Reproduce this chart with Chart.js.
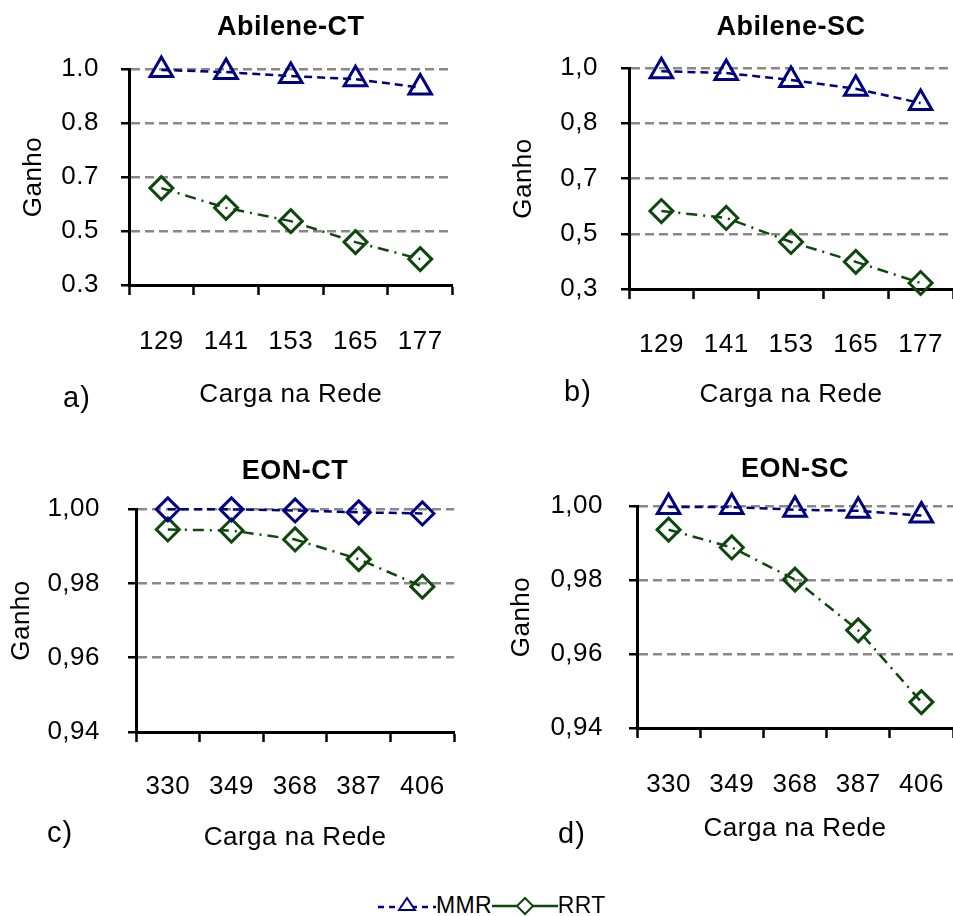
<!DOCTYPE html>
<html>
<head>
<meta charset="utf-8">
<script src="https://cdn.jsdelivr.net/npm/chart.js@4"></script>
<style>
  html, body { margin: 0; padding: 0; background: #ffffff; overflow: hidden; width: 953px; height: 916px; }
  #page { position: relative; width: 953px; height: 916px; overflow: hidden; font-family: "Liberation Sans", Arial, sans-serif; color: #000; }
  canvas { position: absolute; }
  .plabel { position: absolute; font-size: 29px; line-height: 30px; letter-spacing: 1px; }
  #legend { position: absolute; left: 378px; top: 891px; height: 28px; display: flex; align-items: center; font-size: 23px; letter-spacing: 0.3px; }
</style>
</head>
<body>
<div id="page">
  <canvas id="cA" width="476" height="430" style="left:0px;top:0px"></canvas>
  <canvas id="cB" width="520" height="430" style="left:476px;top:0px"></canvas>
  <canvas id="cC" width="476" height="420" style="left:0px;top:440px"></canvas>
  <canvas id="cD" width="520" height="420" style="left:476px;top:440px"></canvas>
  <div class="plabel" style="left:63px;top:382px">a)</div>
  <div class="plabel" style="left:564px;top:376px">b)</div>
  <div class="plabel" style="left:47px;top:817px">c)</div>
  <div class="plabel" style="left:558px;top:818px">d)</div>
  <div id="legend">
    <svg width="58" height="22" viewBox="0 0 58 22"><line x1="0" y1="13" x2="58" y2="13" stroke="#000080" stroke-width="2.5" stroke-dasharray="6,5"/><polygon points="29,4 37,16 21,16" fill="#fff" stroke="#000080" stroke-width="2"/></svg>
    <span>MMR</span>
    <svg width="66" height="22" viewBox="0 0 66 22"><line x1="0" y1="12" x2="66" y2="12" stroke="#0d470d" stroke-width="2.5"/><polygon points="33,4 41,12 33,20 25,12" fill="#fff" stroke="#0d470d" stroke-width="2"/></svg>
    <span>RRT</span>
  </div>
</div>
<script>
// ---------------- data ----------------
const abileneLoads = ['129', '141', '153', '165', '177'];
const eonLoads = ['330', '349', '368', '387', '406'];

const abileneCtMMR = [0.997, 0.990, 0.977, 0.967, 0.940];
const abileneCtRRT = [0.614, 0.550, 0.507, 0.439, 0.384];

const abileneScMMR = [0.990, 0.984, 0.962, 0.934, 0.889];
const abileneScRRT = [0.547, 0.525, 0.449, 0.386, 0.319];

const eonCtMMR = [0.9999, 0.9999, 0.9996, 0.9991, 0.9988];
const eonCtRRT = [0.9945, 0.9942, 0.9918, 0.9865, 0.9791];

const eonScMMR = [0.9997, 0.9997, 0.9990, 0.9987, 0.9974];
const eonScRRT = [0.9936, 0.9888, 0.9801, 0.9664, 0.9470];

const abileneCtTicks = ['0.3', '0.5', '0.7', '0.8', '1.0'];
const abileneScTicks = ['0,3', '0,5', '0,7', '0,8', '1,0'];
const eonTicks = ['0,94', '0,96', '0,98', '1,00'];

const titles = ['Abilene-CT', 'Abilene-SC', 'EON-CT', 'EON-SC'];
const seriesNames = ['MMR', 'RRT'];
const yAxisTitle = 'Ganho';
const xAxisTitle = 'Carga na Rede';

// ---------------- style ----------------
const FONT = '"Liberation Sans", Arial, sans-serif';
const BLUE = '#000080';
const GREEN = '#0d470d';
const GRID = '#888888';
const XH = 128;

Chart.defaults.font.family = FONT;
Chart.defaults.color = '#000';

const spacing = {
  id: 'letterSpacing',
  beforeLayout(c) { c.ctx.letterSpacing = '0.5px'; },
  beforeDraw(c) { c.ctx.letterSpacing = '0.5px'; }
};

function makePanel(id, cfg) {
  const chart = new Chart(document.getElementById(id), {
    type: 'line',
    data: {
      labels: cfg.labels,
      datasets: [
        {
          label: seriesNames[0], data: cfg.mmr, clip: false,
          borderColor: BLUE, borderWidth: 2.5, borderDash: [8, 5],
          pointStyle: cfg.mmrStyle, pointRadius: cfg.mmrRadius,
          pointBorderWidth: 3, pointBorderColor: BLUE,
          pointBackgroundColor: 'rgba(0,0,0,0)', tension: 0
        },
        {
          label: seriesNames[1], data: cfg.rrt, clip: false,
          borderColor: GREEN, borderWidth: 2.5, borderDash: [11, 6, 2, 6],
          pointStyle: 'rectRot', pointRadius: 11.5,
          pointBorderWidth: 3, pointBorderColor: GREEN,
          pointBackgroundColor: 'rgba(0,0,0,0)', tension: 0
        }
      ]
    },
    options: {
      responsive: false,
      animation: false,
      devicePixelRatio: 1,
      layout: { padding: { left: 0, right: 0, top: 0, bottom: 0 } },
      plugins: {
        legend: { display: false },
        tooltip: { enabled: false },
        title: {
          display: true, text: cfg.title, fullSize: false,
          font: { size: 27, weight: 'bold', family: FONT }, color: '#000',
          padding: { top: cfg.titleTop, bottom: 20 }
        }
      },
      scales: {
        x: {
          type: 'category', offset: true,
          afterFit: (s) => { s.height = XH; },
          grid: { display: true, offset: true, drawOnChartArea: false, drawTicks: true,
                  tickLength: 10, tickColor: '#000', tickWidth: 2.5 },
          border: { display: true, color: '#000', width: 3 },
          ticks: { font: { size: 26, family: FONT }, color: '#000', padding: cfg.xTickPad, maxRotation: 0, autoSkip: false },
          title: { display: true, text: xAxisTitle, font: { size: 26, family: FONT }, color: '#000',
                   padding: { top: 0, bottom: cfg.xTitleBottom } }
        },
        y: {
          type: 'linear', min: cfg.min, max: cfg.max,
          afterFit: (s) => { s.width = cfg.target.l; },
          grid: { display: true, color: GRID, lineWidth: 2.5, drawTicks: true, tickLength: 8,
                  tickColor: '#000', tickWidth: 2.5 },
          border: { display: true, color: '#000', width: 3, dash: [9, 5] },
          ticks: {
            stepSize: cfg.step, font: { size: 26, family: FONT }, color: '#000', padding: cfg.yTickPad,
            callback: (v, i) => cfg.tickLabels[i]
          },
          title: { display: true, text: yAxisTitle, font: { size: 26, family: FONT }, color: '#000',
                   padding: { top: cfg.yTitleTop, bottom: 0 } }
        }
      }
    },
    plugins: [spacing]
  });
  // fit the plot area to the target box
  const t = cfg.target;
  for (let k = 0; k < 6; k++) {
    const ca = chart.chartArea;
    const dl = t.l - ca.left, dr = ca.right - t.r, dt = t.t - ca.top, db = ca.bottom - t.b;
    if (Math.abs(dl) + Math.abs(dr) + Math.abs(dt) + Math.abs(db) < 0.5) break;
    const p = chart.options.layout.padding;
    chart.options.layout.padding = { left: p.left + dl, right: p.right + dr, top: p.top, bottom: p.bottom + db };
    const tp = chart.options.plugins.title.padding;
    chart.options.plugins.title.padding = { top: tp.top, bottom: tp.bottom + dt };
    chart.update('none');
  }
  return chart;
}

makePanel('cA', {
  title: titles[0], labels: abileneLoads, mmr: abileneCtMMR, rrt: abileneCtRRT,
  mmrStyle: 'triangle', mmrRadius: 13,
  min: 0.3, max: 1.0, step: 0.175, tickLabels: abileneCtTicks,
  target: { l: 129, t: 69, r: 453, b: 285 },
  titleTop: 11.8, yTitleTop: 18.4, yTickPad: 22, xTickPad: 31, xTitleBottom: 2.4
});
makePanel('cB', {
  title: titles[1], labels: abileneLoads, mmr: abileneScMMR, rrt: abileneScRRT,
  mmrStyle: 'triangle', mmrRadius: 13,
  min: 0.3, max: 1.0, step: 0.175, tickLabels: abileneScTicks,
  target: { l: 153, t: 68, r: 477, b: 289 },
  titleTop: 11.8, yTitleTop: 32.4, yTickPad: 23, xTickPad: 30, xTitleBottom: 6.4
});
makePanel('cC', {
  title: titles[2], labels: eonLoads, mmr: eonCtMMR, rrt: eonCtRRT,
  mmrStyle: 'rectRot', mmrRadius: 11.5,
  min: 0.94, max: 1.0, step: 0.02, tickLabels: eonTicks,
  target: { l: 136, t: 69, r: 456, b: 292 },
  titleTop: 15.8, yTitleTop: 6.4, yTickPad: 28, xTickPad: 29, xTitleBottom: 6.4
});
makePanel('cD', {
  title: titles[3], labels: eonLoads, mmr: eonScMMR, rrt: eonScRRT,
  mmrStyle: 'triangle', mmrRadius: 13,
  min: 0.94, max: 1.0, step: 0.02, tickLabels: eonTicks,
  target: { l: 161, t: 66, r: 477, b: 288 },
  titleTop: 13.8, yTitleTop: 30.4, yTickPad: 26, xTickPad: 31, xTitleBottom: 11.4
});
</script>
</body>
</html>
